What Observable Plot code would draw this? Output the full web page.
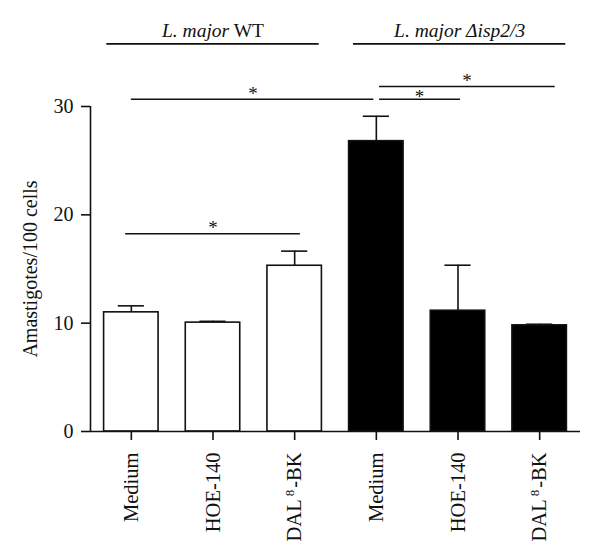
<!DOCTYPE html>
<html><head><meta charset="utf-8">
<script src="https://cdn.jsdelivr.net/npm/d3@7"></script>
<script src="https://cdn.jsdelivr.net/npm/@observablehq/plot@0.6"></script>
<style>body{margin:0;background:#fff} svg{display:block}</style>
</head><body><div id="chart"></div>
<script>
// ---- data ----
const treatments = ["Medium", "HOE-140", "DAL⁸-BK", "Medium", "HOE-140", "DAL⁸-BK"];
const strains = ["WT", "WT", "WT", "KO", "KO", "KO"];
const means = [11.0, 10.05, 15.3, 26.8, 11.15, 9.8];
const errors = [0.6, 0.12, 1.35, 2.3, 4.2, 0.1];
const yTicks = [0, 10, 20, 30];
const yLabel = "Amastigotes/100 cells";

// group headers (x in bar-index units, y in data units)
const groupItalic = ["L. major", "L. major \u0394isp2/3"];
const groupNormal = [" WT", ""];
const groupX1 = [-0.3, 2.72];
const groupX2 = [2.3, 5.32];
const groupLineY = [35.78, 35.78];
const groupTextY = [37.0, 37.0];

// significance brackets
const sigX1 = [0, 3.04, 3.04, -0.07];
const sigX2 = [2.97, 4.03, 5.19, 2.07];
const sigY = [30.67, 30.67, 31.85, 18.26];
const starX = [1.49, 3.53, 4.11, 1.0];
const starY = [31.2, 30.9, 32.34, 18.75];

const bars = means.map((m, i) => ({i, mean: m, err: errors[i], strain: strains[i]}));
const groups = groupItalic.map((t, i) => ({x1: groupX1[i], x2: groupX2[i], ly: groupLineY[i], ty: groupTextY[i], label: t + groupNormal[i]}));
const sigs = sigX1.map((x1, i) => ({x1, x2: sigX2[i], y: sigY[i], sx: starX[i], sy: starY[i]}));

const half = 0.3335, cap = 0.16;
const ink = "#111";

const chart = Plot.plot({
  width: 600, height: 549,
  marginLeft: 90, marginRight: 20, marginTop: 106, marginBottom: 118,
  x: {domain: [-0.5, 5.5], axis: null},
  y: {domain: [0, 30], axis: null},
  style: {fontFamily: "'Liberation Serif', 'Times New Roman', serif", fontSize: "19px", color: ink, background: "#fff"},
  marks: [
    Plot.ruleX(bars, {x: "i", y1: "mean", y2: d => d.mean + d.err, stroke: ink, strokeWidth: 1.6}),
    Plot.ruleY(bars, {y: d => d.mean + d.err, x1: d => d.i - cap, x2: d => d.i + cap, stroke: ink, strokeWidth: 1.6}),
    Plot.rectY(bars, {x1: d => d.i - half, x2: d => d.i + half, y1: 0, y2: "mean",
      fill: d => d.strain === "WT" ? "#fff" : "#000", stroke: ink, strokeWidth: 1.6}),
    Plot.ruleX([-0.5], {y1: 0, y2: 30, stroke: ink, strokeWidth: 1.6}),
    Plot.ruleY([0], {x1: -0.5, x2: 5.5, stroke: ink, strokeWidth: 1.6}),
    Plot.axisY({ticks: yTicks, tickSize: 9, tickPadding: 8, fontSize: 20, stroke: ink, strokeWidth: 1.6,
      label: yLabel, labelAnchor: "center", labelArrow: "none", labelOffset: 68}),
    Plot.axisX({ticks: [0, 1, 2, 3, 4, 5], tickFormat: i => treatments[i], tickRotate: -90,
      tickSize: 9, tickPadding: 12, fontSize: 20.5, stroke: ink, strokeWidth: 1.6, label: null}),
    Plot.ruleY(groups, {y: "ly", x1: "x1", x2: "x2", stroke: ink, strokeWidth: 1.6}),
    Plot.text(groups, {x: d => (d.x1 + d.x2) / 2, y: "ty", text: "label", fontSize: 19.5, fill: ink, className: "grp"}),
    Plot.ruleY(sigs, {y: "y", x1: "x1", x2: "x2", stroke: ink, strokeWidth: 1.6}),
    Plot.text(sigs, {x: "sx", y: "sy", text: () => "*", fontSize: 19, fill: ink})
  ]
});

// mixed italic / upright header text
chart.querySelectorAll("g.grp text").forEach((t, i) => {
  t.textContent = "";
  const a = document.createElementNS("http://www.w3.org/2000/svg", "tspan");
  a.setAttribute("font-style", "italic");
  a.textContent = groupItalic[i];
  t.appendChild(a);
  if (groupNormal[i]) {
    const b = document.createElementNS("http://www.w3.org/2000/svg", "tspan");
    b.textContent = groupNormal[i];
    t.appendChild(b);
  }
});
// superscript 8 in DAL8-BK
chart.querySelectorAll("text").forEach(t => {
  if (t.textContent.includes("⁸")) {
    const [pre, post] = t.textContent.split("⁸");
    t.textContent = "";
    const ns = "http://www.w3.org/2000/svg";
    const a = document.createElementNS(ns, "tspan"); a.textContent = pre;
    const s = document.createElementNS(ns, "tspan"); s.textContent = "8";
    s.setAttribute("baseline-shift", "super"); s.setAttribute("font-size", "13"); s.setAttribute("dx", "3");
    const b = document.createElementNS(ns, "tspan"); b.textContent = post; b.setAttribute("dx", "2");
    t.append(a, s, b);
  }
});
document.getElementById("chart").appendChild(chart);
</script>
</body></html>
